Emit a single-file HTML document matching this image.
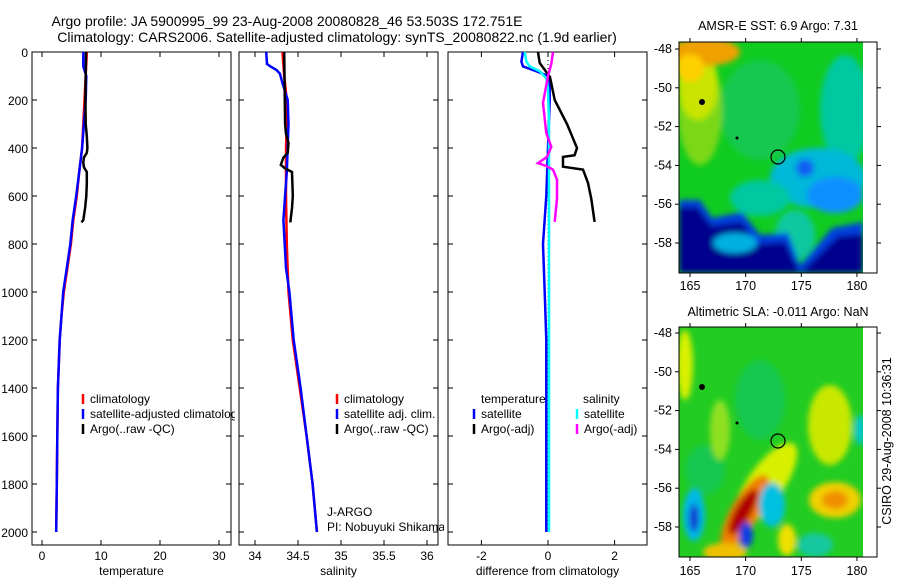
<!DOCTYPE html>
<html><head><meta charset="utf-8"><style>
body{margin:0;background:#fff}
svg{display:block;font-family:"Liberation Sans",sans-serif}
</style></head><body>
<svg id="c" width="900" height="580" viewBox="0 0 900 580" xmlns="http://www.w3.org/2000/svg">
<defs><filter id="bl" x="-20%" y="-20%" width="140%" height="140%"><feGaussianBlur stdDeviation="3"/></filter>
<clipPath id="m1c"><rect x="679" y="42" width="184" height="231"/></clipPath>
<clipPath id="m2c"><rect x="679" y="327" width="184" height="230"/></clipPath></defs>
<text x="287" y="26" font-size="14" text-anchor="middle">Argo profile: JA 5900995_99 23-Aug-2008 20080828_46 53.503S 172.751E</text>
<text x="337" y="42" font-size="14" text-anchor="middle">Climatology: CARS2006. Satellite-adjusted climatology: synTS_20080822.nc (1.9d earlier)</text>
<g id="plots"></g>
<g>
<text x="778" y="30" font-size="12.5" text-anchor="middle">AMSR-E SST: 6.9 Argo: 7.31</text>
<g clip-path="url(#m1c)"><rect x="679" y="42" width="184" height="231" fill="#10cc20"/>
<g filter="url(#bl)">
<ellipse cx="760" cy="110" rx="40" ry="50" fill="#18c850"/>
<ellipse cx="700" cy="110" rx="22" ry="55" fill="#7cd818"/>
<ellipse cx="698" cy="85" rx="20" ry="35" fill="#c8e400"/>
<ellipse cx="705" cy="52" rx="35" ry="14" fill="#f0a000"/>
<ellipse cx="690" cy="68" rx="14" ry="14" fill="#ffd000"/>
<ellipse cx="845" cy="110" rx="25" ry="55" fill="#00c8a0"/>
<ellipse cx="818" cy="178" rx="48" ry="30" fill="#00b8d8"/>
<ellipse cx="835" cy="195" rx="28" ry="18" fill="#0a90ff"/>
<ellipse cx="805" cy="168" rx="9" ry="9" fill="#1060f0"/>
<ellipse cx="760" cy="198" rx="30" ry="18" fill="#00c8a0"/>
<ellipse cx="795" cy="235" rx="20" ry="25" fill="#10c8a0"/>
<polygon points="679,200 700,200 712,218 742,212 760,235 788,233 800,265 832,228 863,222 863,273 679,273" fill="#0040e0"/>
<polygon points="679,207 697,207 712,226 742,222 756,244 785,242 800,273 838,236 863,234 863,273 679,273" fill="#00008e"/>
<ellipse cx="735" cy="243" rx="22" ry="10" fill="#00b0e0"/>
</g>
<circle cx="778" cy="157" r="7" fill="none" stroke="#000" stroke-width="1.2"/>
<circle cx="702" cy="102" r="3" fill="#000"/><circle cx="737" cy="138" r="1.5" fill="#000"/>
</g>
<rect x="679" y="42" width="198" height="231" fill="none" stroke="#000"/>
<g id="m1t"></g>
</g>
<g>
<text x="778" y="316" font-size="12.5" text-anchor="middle">Altimetric SLA: -0.011 Argo: NaN</text>
<g clip-path="url(#m2c)"><rect x="679" y="327" width="184" height="230" fill="#22cc22"/>
<g filter="url(#bl)">
<ellipse cx="760" cy="400" rx="25" ry="40" fill="#18c850"/>
<ellipse cx="705" cy="470" rx="20" ry="25" fill="#18c850"/>
<ellipse cx="685" cy="365" rx="8" ry="35" fill="#d8f000"/>
<ellipse cx="720" cy="430" rx="10" ry="30" fill="#90e020"/>
<ellipse cx="765" cy="485" rx="18" ry="50" fill="#d8f000" transform="rotate(35 765 485)"/>
<ellipse cx="745" cy="512" rx="14" ry="42" fill="#f08000" transform="rotate(30 745 512)"/>
<ellipse cx="743" cy="512" rx="8" ry="26" fill="#b00000" transform="rotate(30 743 512)"/>
<ellipse cx="835" cy="500" rx="26" ry="18" fill="#f0d000"/>
<ellipse cx="835" cy="500" rx="13" ry="9" fill="#f09000"/>
<ellipse cx="830" cy="425" rx="22" ry="40" fill="#c8e800"/>
<ellipse cx="860" cy="430" rx="6" ry="15" fill="#00c8c8"/>
<ellipse cx="694" cy="515" rx="11" ry="26" fill="#00b8e8"/>
<ellipse cx="694" cy="518" rx="5" ry="14" fill="#1040d0"/>
<ellipse cx="746" cy="535" rx="7" ry="13" fill="#1040e0"/>
<ellipse cx="772" cy="505" rx="13" ry="22" fill="#00c0e0"/>
<ellipse cx="787" cy="540" rx="9" ry="16" fill="#f0e000"/>
<ellipse cx="725" cy="552" rx="22" ry="9" fill="#f0c000"/>
<ellipse cx="815" cy="545" rx="18" ry="12" fill="#18c8a0"/>
</g>
<circle cx="778" cy="441" r="7" fill="none" stroke="#000" stroke-width="1.2"/>
<circle cx="702" cy="387" r="3" fill="#000"/><circle cx="737" cy="423" r="1.5" fill="#000"/>
</g>
<rect x="679" y="327" width="198" height="230" fill="none" stroke="#000"/>
<g id="m2t"></g>
</g>
<text transform="translate(891,441) rotate(-90)" font-size="12.5" text-anchor="middle">CSIRO 29-Aug-2008 10:36:31</text>
</svg>
<script>
// ---- data ----
const depthTicks=[0,200,400,600,800,1000,1200,1400,1600,1800,2000];
const tempTicks=[0,10,20,30];
const salTicks=[34,34.5,35,35.5,36];
const diffTicks=[-2,0,2];
const tClimDepth=[0,100,200,300,400,500,600,700,800,900,1000,1100,1200,1400,1600,1800,2000];
const tClimVal=[7.6,7.4,7.2,7.0,6.8,6.3,5.9,5.3,4.9,4.3,3.7,3.3,3.0,2.7,2.6,2.5,2.4];
const tSatDepth=[0,60,100,200,300,400,500,600,700,800,900,1000,1200,1400,1600,1800,2000];
const tSatVal=[7.0,7.0,7.5,7.4,7.1,6.8,6.3,5.8,5.2,4.8,4.2,3.6,3.0,2.7,2.6,2.5,2.4];
const tArgoDepth=[0,100,200,300,350,400,420,440,460,480,500,550,600,650,700,710];
const tArgoVal=[7.45,7.4,7.35,7.4,7.6,7.7,7.6,7.1,7.0,7.1,7.6,7.6,7.5,7.3,7.0,6.7];
const sClimDepth=[0,100,200,300,400,600,800,1000,1200,1400,1600,1800,2000];
const sClimVal=[34.32,34.34,34.37,34.37,34.36,34.36,34.37,34.39,34.44,34.52,34.6,34.67,34.72];
const sSatDepth=[0,50,60,75,90,130,200,300,500,700,900,1000,1200,1400,1600,1800,2000];
const sSatVal=[34.13,34.14,34.18,34.25,34.29,34.32,34.38,34.39,34.37,34.33,34.36,34.4,34.45,34.53,34.6,34.67,34.72];
const sArgoDepth=[0,300,340,380,420,440,470,485,500,600,650,710];
const sArgoVal=[34.34,34.35,34.36,34.39,34.38,34.33,34.3,34.35,34.43,34.44,34.43,34.41];
const dTSatDepth=[0,40,60,80,100,120,200,400,600,800,1000,1200,1500,2000];
const dTSatVal=[-0.75,-0.8,-0.75,-0.35,0.0,0.05,0.05,0.0,-0.05,-0.15,-0.1,-0.05,-0.05,-0.05];
const dTArgoDepth=[0,46,104,200,300,400,430,437,478,490,546,612,708];
const dTArgoVal=[-0.3,-0.25,0.06,0.2,0.57,0.87,0.8,0.45,0.45,1.05,1.2,1.3,1.4];
const dSSatDepth=[0,40,60,80,110,150,300,600,1000,1500,2000];
const dSSatVal=[-0.7,-0.65,-0.55,-0.25,-0.05,0.0,0.03,0.03,0.03,0.03,0.03];
const dSArgoDepth=[0,49,100,212,338,395,437,463,475,490,532,610,708];
const dSArgoVal=[0.15,0.1,0.0,-0.15,-0.05,0.1,-0.03,-0.3,-0.05,0.15,0.27,0.27,0.2];
const lonTicks=[165,170,175,180];
const latTicks=[-48,-50,-52,-54,-56,-58];
// ---- drawing ----
const NS="http://www.w3.org/2000/svg";
const root=document.getElementById('plots');
function el(tag,attrs,parent){const e=document.createElementNS(NS,tag);for(const k in attrs)e.setAttribute(k,attrs[k]);(parent||root).appendChild(e);return e;}
const Y0=52,Y1=545;
const yD=d=>Y0+d*0.24;
const panels=[
 {x0:32,x1:231,sx:v=>42+5.9*v,ticks:tempTicks,lab:'temperature',name:'temperature-panel'},
 {x0:239,x1:438,sx:v=>255+86*(v-34),ticks:salTicks,lab:'salinity',name:'salinity-panel'},
 {x0:448,x1:647,sx:v=>548+33.3*v,ticks:diffTicks,lab:'difference from climatology',name:'difference-panel'}
];
function line(p,dep,val,col,name,w){
 const pts=dep.map((d,i)=>p.sx(val[i]).toFixed(1)+','+yD(d).toFixed(1)).join(' ');
 const l=el('polyline',{points:pts,fill:'none',stroke:col,'stroke-width':w||2.5,'stroke-linejoin':'miter'},p.g);
 
 
}
function legend(g,x,y,col,txt,name){
 if(col){const m=el('line',{x1:x,x2:x,y1:y-9,y2:y+1,stroke:col,'stroke-width':2.5},g);
 
 }
 const t=el('text',{x:x+7,y:y,'font-size':12},g);t.textContent=txt;
 
 
}
panels.forEach((p,pi)=>{
 p.g=el('g',{});
 
 
 el('rect',{x:p.x0-4,y:Y0-2,width:p.x1-p.x0+8,height:Y1-Y0+30,fill:'#fff'},p.g);
 el('rect',{x:p.x0,y:Y0,width:p.x1-p.x0,height:Y1-Y0,fill:'none',stroke:'#000'},p.g);
 p.ticks.forEach(v=>{const x=p.sx(v);
  el('line',{x1:x,x2:x,y1:Y0,y2:Y0+5,stroke:'#000'},p.g);el('line',{x1:x,x2:x,y1:Y1,y2:Y1-5,stroke:'#000'},p.g);
  const t=el('text',{x:x,y:560,'font-size':12,'text-anchor':'middle'},p.g);t.textContent=String(v);
  
  });
 depthTicks.forEach(d=>{const y=yD(d);
  el('line',{x1:p.x0,x2:p.x0+5,y1:y,y2:y,stroke:'#000'},p.g);el('line',{x1:p.x1,x2:p.x1-5,y1:y,y2:y,stroke:'#000'},p.g);
  if(pi===0){const t=el('text',{x:28,y:y+5,'font-size':12,'text-anchor':'end'},p.g);t.textContent=String(d);
  
  }});
 const at=el('text',{x:(p.x0+p.x1)/2,y:575,'font-size':12,'text-anchor':'middle'},p.g);at.textContent=p.lab;
 
 
 if(pi===0){
  line(p,tClimDepth,tClimVal,'#f00','temp-climatology-line');
  line(p,tSatDepth,tSatVal,'#00f','temp-satellite-line');
  line(p,tArgoDepth,tArgoVal,'#000','temp-argo-line');
  legend(p.g,83,403,'#f00','climatology','legend-climatology');
  legend(p.g,83,418,'#00f','satellite-adjusted climatology','legend-satellite');
  legend(p.g,83,433,'#000','Argo(..raw -QC)','legend-argo');
 } else if(pi===1){
  line(p,sClimDepth,sClimVal,'#f00','sal-climatology-line');
  line(p,sSatDepth,sSatVal,'#00f','sal-satellite-line');
  line(p,sArgoDepth,sArgoVal,'#000','sal-argo-line');
  legend(p.g,337,403,'#f00','climatology','legend-climatology');
  legend(p.g,337,418,'#00f','satellite adj. clim.','legend-satellite');
  legend(p.g,337,433,'#000','Argo(..raw -QC)','legend-argo');
  legend(p.g,320,516,null,'J-ARGO','platform-label');
  legend(p.g,320,531,null,'PI: Nobuyuki Shikama','pi-label');
 } else {
  el('line',{x1:548,x2:548,y1:Y0,y2:yD(2000),stroke:'#000','stroke-dasharray':'1,3','stroke-width':1},p.g);
  line(p,dTSatDepth,dTSatVal,'#00f','dtemp-satellite-line');
  line(p,dSSatDepth,dSSatVal,'#0ff','dsal-satellite-line');
  line(p,dTArgoDepth,dTArgoVal,'#000','dtemp-argo-line');
  line(p,dSArgoDepth,dSArgoVal,'#f0f','dsal-argo-line');
  legend(p.g,474,403,null,'temperature','legend-temp-heading');
  legend(p.g,576,403,null,'salinity','legend-sal-heading');
  legend(p.g,474,418,'#00f','satellite','legend-temp-satellite');
  legend(p.g,474,433,'#000','Argo(-adj)','legend-temp-argo');
  legend(p.g,577,418,'#0ff','satellite','legend-sal-satellite');
  legend(p.g,577,433,'#f0f','Argo(-adj)','legend-sal-argo');
 }
});
function mapTicks(gid,top,bot,lat48,labY){
 const g=document.getElementById(gid);
 const sx=l=>690+(l-165)*11.13, sy=l=>lat48+(-48-l)*19.4;
 lonTicks.forEach(l=>{const x=sx(l);
  el('line',{x1:x,x2:x,y1:top,y2:top-4,stroke:'#000'},g);el('line',{x1:x,x2:x,y1:bot,y2:bot+4,stroke:'#000'},g);
  const t=el('text',{x:x,y:labY,'font-size':12.5,'text-anchor':'middle'},g);t.textContent=String(l);
  
  });
 latTicks.forEach(l=>{const y=sy(l);
  el('line',{x1:679,x2:675,y1:y,y2:y,stroke:'#000'},g);el('line',{x1:877,x2:881,y1:y,y2:y,stroke:'#000'},g);
  const t=el('text',{x:672,y:y+4,'font-size':12.5,'text-anchor':'end'},g);t.textContent=String(l);
  
  });
}
mapTicks('m1t',42,273,49,290);
mapTicks('m2t',327,557,333,575);
</script>
</body></html>
